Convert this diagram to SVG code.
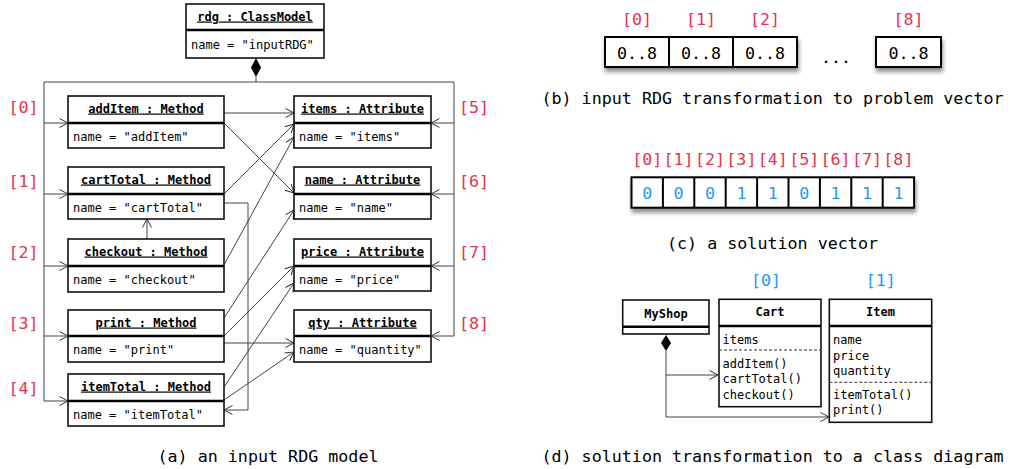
<svg xmlns="http://www.w3.org/2000/svg" width="1010" height="469" viewBox="0 0 1010 469">
<style>
text{font-family:"DejaVu Sans Mono","Liberation Mono",monospace;fill:#000}
.t{font-size:12px}
.h{font-size:12px;font-weight:bold;text-decoration:underline}
.b{font-size:12px;font-weight:bold}
.big{font-size:16.7px}
.red{font-size:16.7px;fill:#e8344f}
.blue{font-size:16.7px;fill:#1e9bf2}
.box{fill:#fff;stroke:#111;stroke-width:1.6}
.div{stroke:#000;stroke-width:2.6}
.vbox{fill:#fff;stroke:#000;stroke-width:2}
.c{fill:none;stroke:#444;stroke-width:1}
.dash{stroke:#333;stroke-width:1;stroke-dasharray:3,2}
</style>
<defs>
<marker id="arr" markerUnits="userSpaceOnUse" markerWidth="12" markerHeight="12" refX="10" refY="5" orient="auto">
<path d="M1.5,0.5 L10,5 L1.5,9.5" fill="none" stroke="#333" stroke-width="1"/>
</marker>
<filter id="sh" x="-10%" y="-30%" width="130%" height="190%">
<feDropShadow dx="1" dy="4" stdDeviation="2" flood-color="#000" flood-opacity="0.45"/>
</filter>
</defs>

<!-- connectors (a) -->
<g id="connectors">
<path class="c" d="M256,77 V82 M44,82 H454"/>
<path class="c" d="M44,82 V401"/>
<path class="c" d="M454,82 V336"/>
<path class="c" marker-end="url(#arr)" d="M44,123 H68"/>
<path class="c" marker-end="url(#arr)" d="M44,194 H68"/>
<path class="c" marker-end="url(#arr)" d="M44,266 H68"/>
<path class="c" marker-end="url(#arr)" d="M44,336 H68"/>
<path class="c" marker-end="url(#arr)" d="M44,401 H68"/>
<path class="c" marker-end="url(#arr)" d="M454,123 H431"/>
<path class="c" marker-end="url(#arr)" d="M454,194 H431"/>
<path class="c" marker-end="url(#arr)" d="M454,266 H431"/>
<path class="c" marker-end="url(#arr)" d="M454,336 H431"/>
<path class="c" marker-end="url(#arr)" d="M224,113 H294"/>
<path class="c" marker-end="url(#arr)" d="M224,123 L294,193"/>
<path class="c" marker-end="url(#arr)" d="M224,194 L294,124"/>
<path class="c" marker-end="url(#arr)" d="M224,265 L294,137"/>
<path class="c" marker-end="url(#arr)" d="M224,203 H248 V410 H224"/>
<path class="c" marker-end="url(#arr)" d="M147,239 V219"/>
<path class="c" marker-end="url(#arr)" d="M224,318 L294,210"/>
<path class="c" marker-end="url(#arr)" d="M224,336 L294,266"/>
<path class="c" marker-end="url(#arr)" d="M224,343 H294"/>
<path class="c" marker-end="url(#arr)" d="M224,387 L294,283"/>
<path class="c" marker-end="url(#arr)" d="M224,400 L294,352"/>
<path class="c" d="M666,351 V417 M666,375 H718" marker-end="url(#arr)"/>
<path class="c" marker-end="url(#arr)" d="M666,417 H829"/>
</g>

<!-- rdg -->
<g id="rdg">
<rect class="box" x="186" y="4" width="138" height="54"/>
<line class="div" x1="186" y1="30" x2="324" y2="30"/>
<text class="h" x="255" y="20.5" text-anchor="middle">rdg : ClassModel</text>
<text class="t" x="191" y="49">name = "inputRDG"</text>
<path d="M256,58 L261,67.5 L256,77 L251,67.5 Z" fill="#000"/>
</g>

<!-- methods -->
<g id="addItem">
<rect class="box" x="68" y="96" width="156" height="52"/>
<line class="div" x1="68" y1="123" x2="224" y2="123"/>
<text class="h" x="146" y="112.5" text-anchor="middle">addItem : Method</text>
<text class="t" x="73" y="140.5">name = "addItem"</text>
</g>
<g id="cartTotal">
<rect class="box" x="68" y="167" width="156" height="52"/>
<line class="div" x1="68" y1="194" x2="224" y2="194"/>
<text class="h" x="146" y="183.5" text-anchor="middle">cartTotal : Method</text>
<text class="t" x="73" y="211.5">name = "cartTotal"</text>
</g>
<g id="checkout">
<rect class="box" x="68" y="239" width="156" height="53"/>
<line class="div" x1="68" y1="266" x2="224" y2="266"/>
<text class="h" x="146" y="255.5" text-anchor="middle">checkout : Method</text>
<text class="t" x="73" y="283.5">name = "checkout"</text>
</g>
<g id="print">
<rect class="box" x="68" y="310" width="156" height="52"/>
<line class="div" x1="68" y1="336" x2="224" y2="336"/>
<text class="h" x="146" y="326.5" text-anchor="middle">print : Method</text>
<text class="t" x="73" y="353.5">name = "print"</text>
</g>
<g id="itemTotal">
<rect class="box" x="68" y="374" width="156" height="52"/>
<line class="div" x1="68" y1="401" x2="224" y2="401"/>
<text class="h" x="146" y="390.5" text-anchor="middle">itemTotal : Method</text>
<text class="t" x="73" y="418.5">name = "itemTotal"</text>
</g>

<!-- attributes -->
<g id="items">
<rect class="box" x="294" y="96" width="137" height="52"/>
<line class="div" x1="294" y1="123" x2="431" y2="123"/>
<text class="h" x="362.5" y="112.5" text-anchor="middle">items : Attribute</text>
<text class="t" x="299" y="140.5">name = "items"</text>
</g>
<g id="name">
<rect class="box" x="294" y="167" width="137" height="52"/>
<line class="div" x1="294" y1="194" x2="431" y2="194"/>
<text class="h" x="362.5" y="183.5" text-anchor="middle">name : Attribute</text>
<text class="t" x="299" y="211.5">name = "name"</text>
</g>
<g id="price">
<rect class="box" x="294" y="239" width="137" height="52"/>
<line class="div" x1="294" y1="266" x2="431" y2="266"/>
<text class="h" x="362.5" y="255.5" text-anchor="middle">price : Attribute</text>
<text class="t" x="299" y="283.5">name = "price"</text>
</g>
<g id="qty">
<rect class="box" x="294" y="310" width="137" height="52"/>
<line class="div" x1="294" y1="336" x2="431" y2="336"/>
<text class="h" x="362.5" y="326.5" text-anchor="middle">qty : Attribute</text>
<text class="t" x="299" y="353.5">name = "quantity"</text>
</g>

<!-- index labels (a) -->
<g id="labels-a">
<text class="red" x="23.5" y="113" text-anchor="middle">[0]</text>
<text class="red" x="23.5" y="187" text-anchor="middle">[1]</text>
<text class="red" x="23.5" y="258" text-anchor="middle">[2]</text>
<text class="red" x="23.5" y="328.5" text-anchor="middle">[3]</text>
<text class="red" x="23.5" y="393.5" text-anchor="middle">[4]</text>
<text class="red" x="474" y="113" text-anchor="middle">[5]</text>
<text class="red" x="474" y="187" text-anchor="middle">[6]</text>
<text class="red" x="474" y="258" text-anchor="middle">[7]</text>
<text class="red" x="474" y="328.5" text-anchor="middle">[8]</text>
</g>
<text class="big" x="268" y="462" text-anchor="middle">(a) an input RDG model</text>

<!-- (b) problem vector -->
<g id="problem-vector">
<g filter="url(#sh)">
<rect class="vbox" x="605" y="37" width="192" height="30"/>
<rect class="vbox" x="876" y="37" width="65" height="30"/>
</g>
<line x1="669" y1="37" x2="669" y2="67" stroke="#000" stroke-width="2"/>
<line x1="733" y1="37" x2="733" y2="67" stroke="#000" stroke-width="2"/>
<text class="big" x="637" y="59" text-anchor="middle">0..8</text>
<text class="big" x="701" y="59" text-anchor="middle">0..8</text>
<text class="big" x="765" y="59" text-anchor="middle">0..8</text>
<text class="big" x="908.5" y="59" text-anchor="middle">0..8</text>
<text class="big" x="836" y="63" text-anchor="middle">...</text>
<text class="red" x="637" y="24.5" text-anchor="middle">[0]</text>
<text class="red" x="701" y="24.5" text-anchor="middle">[1]</text>
<text class="red" x="765" y="24.5" text-anchor="middle">[2]</text>
<text class="red" x="908.5" y="24.5" text-anchor="middle">[8]</text>
</g>
<text class="big" x="772.5" y="104" text-anchor="middle">(b) input RDG transformation to problem vector</text>

<!-- (c) solution vector -->
<g id="solution-vector">
<rect class="vbox" x="631.5" y="177.3" width="282.6" height="30.4" filter="url(#sh)"/>
<path d="M662.9,177.3 V207.7 M694.3,177.3 V207.7 M725.7,177.3 V207.7 M757.1,177.3 V207.7 M788.5,177.3 V207.7 M819.9,177.3 V207.7 M851.3,177.3 V207.7 M882.7,177.3 V207.7" stroke="#000" stroke-width="2"/>
<text class="blue" x="647.2" y="199.3" text-anchor="middle">0</text>
<text class="blue" x="678.6" y="199.3" text-anchor="middle">0</text>
<text class="blue" x="710" y="199.3" text-anchor="middle">0</text>
<text class="blue" x="741.4" y="199.3" text-anchor="middle">1</text>
<text class="blue" x="772.8" y="199.3" text-anchor="middle">1</text>
<text class="blue" x="804.2" y="199.3" text-anchor="middle">0</text>
<text class="blue" x="835.6" y="199.3" text-anchor="middle">1</text>
<text class="blue" x="867" y="199.3" text-anchor="middle">1</text>
<text class="blue" x="898.4" y="199.3" text-anchor="middle">1</text>
<text class="red" x="647.2" y="164.5" text-anchor="middle">[0]</text>
<text class="red" x="678.6" y="164.5" text-anchor="middle">[1]</text>
<text class="red" x="710" y="164.5" text-anchor="middle">[2]</text>
<text class="red" x="741.4" y="164.5" text-anchor="middle">[3]</text>
<text class="red" x="772.8" y="164.5" text-anchor="middle">[4]</text>
<text class="red" x="804.2" y="164.5" text-anchor="middle">[5]</text>
<text class="red" x="835.6" y="164.5" text-anchor="middle">[6]</text>
<text class="red" x="867" y="164.5" text-anchor="middle">[7]</text>
<text class="red" x="898.4" y="164.5" text-anchor="middle">[8]</text>
</g>
<text class="big" x="772.5" y="249" text-anchor="middle">(c) a solution vector</text>

<!-- (d) class diagram -->
<g id="MyShop">
<rect class="box" x="622.7" y="300" width="86.3" height="34"/>
<line class="div" x1="622.7" y1="326.7" x2="709" y2="326.7"/>
<text class="b" x="666" y="317.5" text-anchor="middle">MyShop</text>
<path d="M666,335 L671,343 L666,351 L661,343 Z" fill="#000"/>
</g>
<g id="Cart">
<rect class="box" x="719" y="299.3" width="102" height="107.4"/>
<line class="div" x1="719" y1="326" x2="821" y2="326"/>
<line class="dash" x1="719" y1="350" x2="821" y2="350"/>
<text class="b" x="770" y="316" text-anchor="middle">Cart</text>
<text class="t" x="722.5" y="344">items</text>
<text class="t" x="722.5" y="367.5">addItem()</text>
<text class="t" x="722.5" y="383">cartTotal()</text>
<text class="t" x="722.5" y="398.5">checkout()</text>
<text class="blue" x="766" y="286" text-anchor="middle">[0]</text>
</g>
<g id="Item">
<rect class="box" x="829.3" y="299.3" width="102.4" height="123"/>
<line class="div" x1="829.3" y1="326" x2="931.7" y2="326"/>
<line class="dash" x1="829.3" y1="382.3" x2="931.7" y2="382.3"/>
<text class="b" x="880.5" y="316" text-anchor="middle">Item</text>
<text class="t" x="833" y="344">name</text>
<text class="t" x="833" y="359.7">price</text>
<text class="t" x="833" y="375.3">quantity</text>
<text class="t" x="833" y="398.5">itemTotal()</text>
<text class="t" x="833" y="414.3">print()</text>
<text class="blue" x="880.7" y="286" text-anchor="middle">[1]</text>
</g>
<text class="big" x="772.5" y="462" text-anchor="middle">(d) solution transformation to a class diagram</text>
</svg>
